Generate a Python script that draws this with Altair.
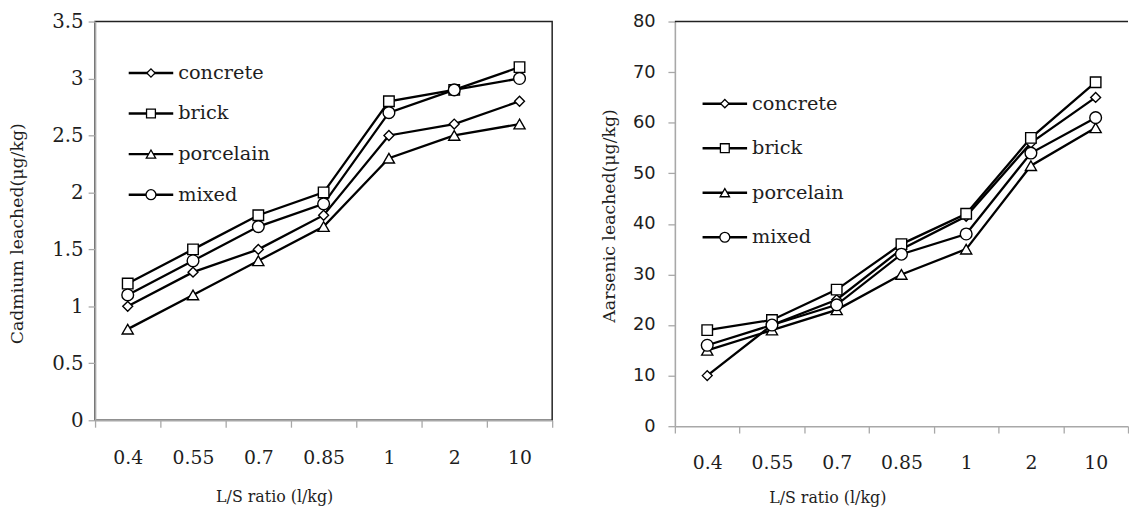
import altair as alt
import pandas as pd

# ---------------- data ----------------
ratios = ["0.4", "0.55", "0.7", "0.85", "1", "2", "10"]
series = ["concrete", "brick", "porcelain", "mixed"]

cd_concrete = [1.0, 1.3, 1.5, 1.8, 2.5, 2.6, 2.8]
cd_brick = [1.2, 1.5, 1.8, 2.0, 2.8, 2.9, 3.1]
cd_porcelain = [0.8, 1.1, 1.4, 1.7, 2.3, 2.5, 2.6]
cd_mixed = [1.1, 1.4, 1.7, 1.9, 2.7, 2.9, 3.0]

as_concrete = [10, 20, 25, 35, 41.5, 56, 65]
as_brick = [19, 21, 27, 36, 42, 57, 68]
as_porcelain = [15, 19, 23, 30, 35, 51.5, 59]
as_mixed = [16, 20, 24, 34, 38, 54, 61]

cd_ticks = [0, 0.5, 1, 1.5, 2, 2.5, 3, 3.5]
as_ticks = [0, 10, 20, 30, 40, 50, 60, 70, 80]

shapes = ["diamond", "square", "triangle-up", "circle"]
marker_sizes = [100, 140, 190, 170]
legend_marker_sizes = [70, 100, 140, 130]

SERIF = "DejaVu Serif"
SANS = "DejaVu Sans"
TXT = "#1e1e1e"
AX = "#a8a8a8"


def long_df(values_by_series):
    rows = []
    for s, vals in zip(series, values_by_series):
        for i, (r, v) in enumerate(zip(ratios, vals)):
            rows.append({"ratio": r, "idx": i, "value": v, "series": s})
    return pd.DataFrame(rows)


cd_df = long_df([cd_concrete, cd_brick, cd_porcelain, cd_mixed])
as_df = long_df([as_concrete, as_brick, as_porcelain, as_mixed])
legend_df = pd.DataFrame({"series": series})


def panel(df, ticks, ymax, ytitle, w, h, ylab_font, ylab_size, y_title_x, y_title_y,
          x_title_x, x_title_y, y_tick_size, y_label_pad, x_label_pad,
          leg_top, leg_bottom, leg_x0, leg_x1, leg_label_x, frame):
    x_enc = alt.X(
        "ratio:N", sort=ratios, title="L/S ratio (l/kg)",
        scale=alt.Scale(paddingInner=0, paddingOuter=0),
        axis=alt.Axis(
            labelAngle=0, tickBand="extent", domainColor=AX, domainWidth=1.6,
            tickColor=AX, tickWidth=1.3, tickSize=7, labelPadding=x_label_pad,
            labelFont=SERIF, labelFontSize=19, labelColor=TXT,
            titleFont=SERIF, titleFontSize=16, titleFontWeight="normal", titleColor=TXT,
            titleX=x_title_x, titleY=x_title_y, titleBaseline="middle",
        ),
    )
    y_enc = alt.Y(
        "value:Q", title=ytitle,
        scale=alt.Scale(domain=[0, ymax], nice=False, zero=True),
        axis=alt.Axis(
            values=ticks, format="~r", grid=False, domainColor=AX, domainWidth=1.6,
            tickColor=AX, tickWidth=1.3, tickSize=y_tick_size, labelPadding=y_label_pad,
            labelFont=ylab_font, labelFontSize=ylab_size, labelColor=TXT,
            titleFont=SERIF, titleFontSize=17.5, titleFontWeight="normal", titleColor=TXT,
            titleX=y_title_x, titleY=y_title_y, titleBaseline="middle",
        ),
    )
    base = alt.Chart(df)
    lines = base.mark_line(color="black", strokeWidth=2.3).encode(
        x=x_enc, y=y_enc, detail="series:N", order=alt.Order("idx:Q")
    )
    points = base.mark_point(filled=True, fill="white", stroke="black", strokeWidth=1.4, opacity=1).encode(
        x=alt.X("ratio:N", sort=ratios),
        y=alt.Y("value:Q"),
        shape=alt.Shape("series:N", scale=alt.Scale(domain=series, range=shapes), legend=None),
        size=alt.Size("series:N", scale=alt.Scale(domain=series, range=marker_sizes), legend=None),
    )
    main_layers = [lines, points]
    if not frame:
        top_rule = alt.Chart(legend_df.head(1)).mark_rule(color="#222", strokeWidth=1.5).encode(
            x=alt.value(0), x2=alt.value(w), y=alt.value(0)
        )
        main_layers.append(top_rule)
    main = alt.layer(*main_layers)

    ly = alt.Y("series:N", sort=series,
               scale=alt.Scale(type="point", domain=series, range=[leg_top, leg_bottom], padding=0),
               axis=None)
    leg_base = alt.Chart(legend_df)
    leg_rule = leg_base.mark_rule(color="black", strokeWidth=2.5).encode(
        y=ly, x=alt.value(leg_x0), x2=alt.value(leg_x1)
    )
    leg_pts = leg_base.mark_point(filled=True, fill="white", stroke="black", strokeWidth=1.3, opacity=1).encode(
        y=ly, x=alt.value((leg_x0 + leg_x1) / 2),
        shape=alt.Shape("series:N", scale=alt.Scale(domain=series, range=shapes), legend=None),
        size=alt.Size("series:N", scale=alt.Scale(domain=series, range=legend_marker_sizes), legend=None),
    )
    leg_txt = leg_base.mark_text(align="left", baseline="middle", font=SERIF, fontSize=19.5, color=TXT).encode(
        y=ly, x=alt.value(leg_label_x), text="series:N"
    )
    legend = alt.layer(leg_rule, leg_pts, leg_txt)

    ch = alt.layer(main, legend).resolve_scale(y="independent", size="independent").properties(width=w, height=h)
    if frame:
        ch = ch.properties(view=alt.ViewBackground(stroke="#222", strokeWidth=1.5))
    else:
        ch = ch.properties(view=alt.ViewBackground(stroke=None))
    return ch


left = panel(cd_df, cd_ticks, 3.5, "Cadmium leached(μg/kg)", 462, 403,
             SERIF, 20, -78, 214, 181, 77, 7, 5, 22,
             52, 175, 34, 79, 84, True)
right = panel(as_df, as_ticks, 80, "Aarsenic leached(μg/kg)", 458, 409,
              SANS, 18, -66, 196, 154, 72, 7, 13, 21,
              83, 218, 28, 73, 78, False)

chart = alt.hconcat(left, right, spacing=47).properties(
    padding={"left": 0, "top": 0, "right": 0, "bottom": 0}
).configure(background="white")

chart.save("out.html", embed_options={"renderer": "svg", "actions": False})
